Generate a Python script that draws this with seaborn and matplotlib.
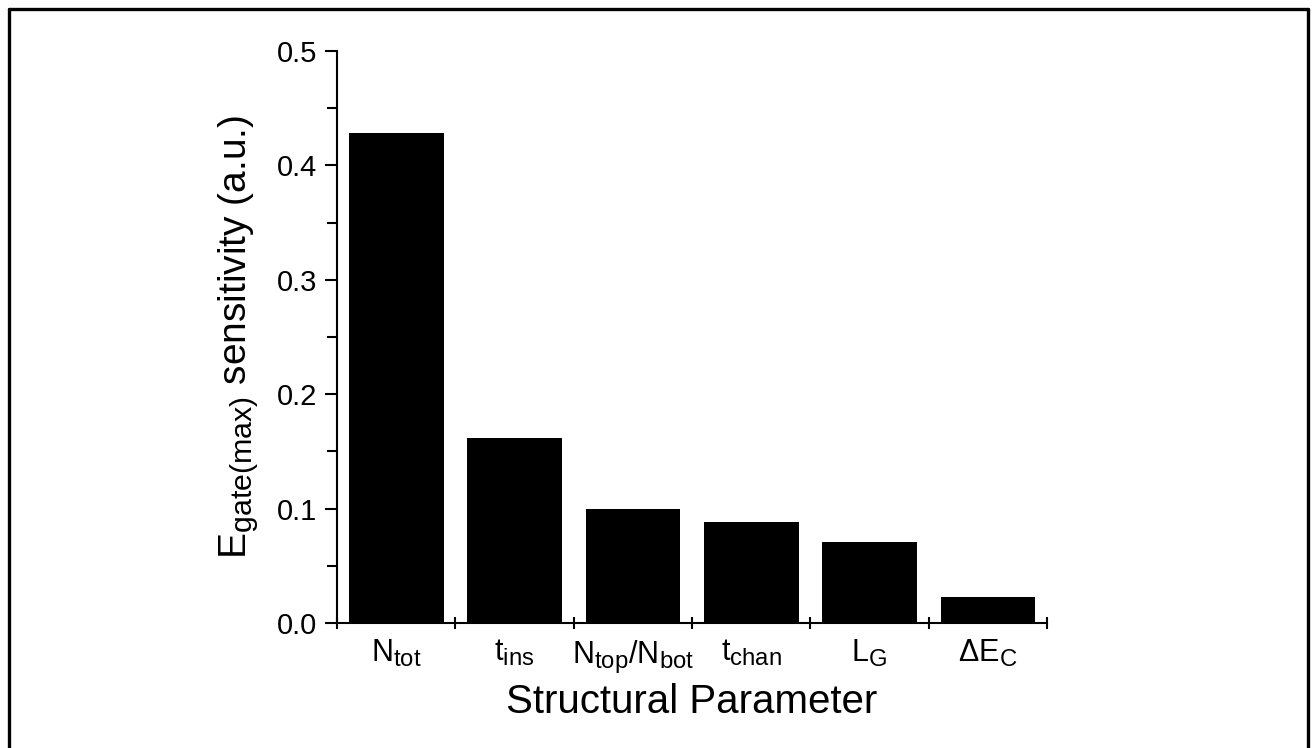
import matplotlib
matplotlib.use("Agg")
import matplotlib.pyplot as plt
import matplotlib._mathtext as mathtext_impl
from matplotlib.lines import Line2D
from matplotlib.ticker import MultipleLocator, FixedLocator
import seaborn as sns

# Structural parameters and their sensitivity values
parameters = [r"N$_\mathregular{tot}$", r"t$_\mathregular{ins}$",
              r"N$_\mathregular{top}$/N$_\mathregular{bot}$", r"t$_\mathregular{chan}$",
              r"L$_\mathregular{G}$", r"ΔE$_\mathregular{C}$"]
sensitivity = [0.428, 0.162, 0.100, 0.088, 0.071, 0.023]
y_ticks = [0.0, 0.1, 0.2, 0.3, 0.4, 0.5]

sns.set_theme(style="ticks")
plt.rcParams["font.family"] = ["Liberation Sans", "DejaVu Sans"]
plt.rcParams["mathtext.fontset"] = "custom"
plt.rcParams["mathtext.rm"] = "Liberation Sans"
plt.rcParams["mathtext.it"] = "Liberation Sans"

# slightly larger subscripts than the mathtext default
if hasattr(mathtext_impl, "SHRINK_FACTOR"):
    mathtext_impl.SHRINK_FACTOR = 0.78

fig = plt.figure(figsize=(13.13, 7.48), dpi=100)
ax = fig.add_axes([337 / 1313, 1 - 623 / 748, (1047 - 337) / 1313, (623 - 51) / 748])

sns.barplot(x=parameters, y=sensitivity, color="black", saturation=1,
            width=0.8, ax=ax, edgecolor="black", linewidth=0)

ax.set_xlim(-0.5, len(parameters) - 0.5)
ax.set_ylim(0, 0.5)
ax.set_yticks(y_ticks)
ax.set_yticklabels([f"{v:.1f}" for v in y_ticks])
ax.yaxis.set_minor_locator(MultipleLocator(0.05))

# category edges carry the x tick marks; labels sit at the centres
ax.xaxis.set_minor_locator(FixedLocator([i - 0.5 for i in range(len(parameters) + 1)]))

for side in ("top", "right"):
    ax.spines[side].set_visible(False)
for side in ("left", "bottom"):
    ax.spines[side].set_linewidth(1.5)
    ax.spines[side].set_color("black")

ax.tick_params(axis="y", which="major", direction="out", length=9, width=1.5,
               labelsize=21, pad=5, colors="black")
ax.tick_params(axis="y", which="minor", direction="out", length=7, width=1.5, colors="black")
ax.tick_params(axis="x", which="major", length=0, labelsize=22, pad=11, colors="black")
ax.tick_params(axis="x", which="minor", direction="inout", length=9, width=1.5, colors="black")

ax.set_xlabel("Structural Parameter", fontsize=29, labelpad=6, color="black")
ax.set_ylabel(r"E$_\mathregular{gate(max)}$ sensitivity (a.u.)", fontsize=28,
              labelpad=12, color="black")

# thick frame around the figure (bottom edge runs off the page)
frame_kw = dict(transform=fig.transFigure, color="black", linewidth=2.4)
fig.add_artist(Line2D([9 / 1313, 9 / 1313], [0, 1 - 8.5 / 748], **frame_kw))
fig.add_artist(Line2D([9 / 1313, 1307.5 / 1313], [1 - 8.5 / 748, 1 - 8.5 / 748], **frame_kw))
fig.add_artist(Line2D([1307.5 / 1313, 1307.5 / 1313], [0, 1 - 8.5 / 748], **frame_kw))

fig.savefig("out.png", dpi=100, facecolor="white")
